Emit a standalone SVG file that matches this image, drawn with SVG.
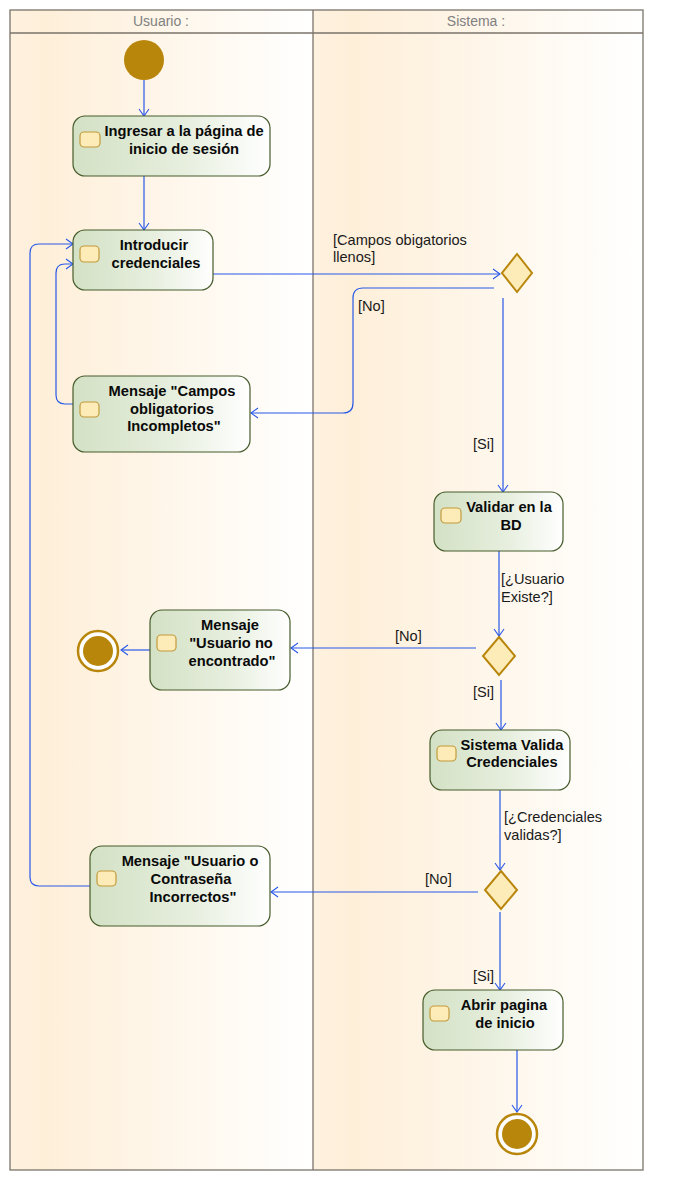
<svg xmlns="http://www.w3.org/2000/svg" width="676" height="1181" viewBox="0 0 676 1181">
  <defs>
    <linearGradient id="laneFill" x1="0" y1="0" x2="1" y2="0">
      <stop offset="0" stop-color="#FEF1DF"/>
      <stop offset="0.12" stop-color="#FEEFD9"/>
      <stop offset="1" stop-color="#FFFFFF"/>
    </linearGradient>
    <linearGradient id="actionFill" x1="0" y1="0" x2="1" y2="0">
      <stop offset="0" stop-color="#D3E1C5"/>
      <stop offset="0.55" stop-color="#E6EEDD"/>
      <stop offset="1" stop-color="#FFFFFF"/>
    </linearGradient>
    <marker id="arrow" markerUnits="userSpaceOnUse" markerWidth="9" markerHeight="12" refX="8" refY="6" orient="auto">
      <path d="M1,1 L8,6 L1,11" fill="none" stroke="#2858E8" stroke-width="1.1"/>
    </marker>
    <style>
      .frame { fill: none; stroke: #7A736A; stroke-width: 1.3; }
      .lane-title { font-family: "Liberation Sans", Arial, sans-serif; font-size: 14px; fill: #808080; text-anchor: middle; }
      .action { fill: url(#actionFill); stroke: #465C2C; stroke-width: 1.2; }
      .icon { fill: #FDEBB8; stroke: #C39A3A; stroke-width: 1.2; }
      .act-text { font-family: "Liberation Sans", Arial, sans-serif; font-size: 14.7px; font-weight: bold; fill: #0A0A0A; text-anchor: middle; }
      .decision { fill: #FDEBB8; stroke: #B8860B; stroke-width: 2; }
      .start { fill: #B8860B; }
      .final-ring { fill: #FFFFFF; stroke: #B8860B; stroke-width: 2.5; }
      .edge { fill: none; stroke: #2858E8; stroke-width: 1.2; marker-end: url(#arrow); }
      .guard { font-family: "Liberation Sans", Arial, sans-serif; font-size: 14.6px; fill: #1A1A1A; }
    </style>
  </defs>

  <!-- swimlanes -->
  <g id="lanes">
    <rect x="10" y="10" width="303" height="1160" fill="url(#laneFill)"/>
    <rect x="313" y="10" width="330" height="1160" fill="url(#laneFill)"/>
    <rect x="10" y="10" width="633" height="1160" class="frame"/>
    <line x1="10" y1="33" x2="643" y2="33" class="frame"/>
    <line x1="313" y1="10" x2="313" y2="1170" class="frame"/>
    <text x="161" y="26" class="lane-title">Usuario :</text>
    <text x="476" y="26" class="lane-title">Sistema :</text>
  </g>

  <!-- connectors -->
  <g id="connectors">
    <path class="edge" d="M144,80 V116"/>
    <path class="edge" d="M144,176 V230"/>
    <path class="edge" d="M213,274 H500"/>
    <path class="edge" d="M494,288 H363 Q353,288 353,298 V403 Q353,413 343,413 H251"/>
    <path class="edge" d="M503,298 V492"/>
    <path class="edge" d="M73,404 H65 Q56,404 56,395 V273 Q56,264 65,264 H73"/>
    <path class="edge" d="M90,886 H39 Q30,886 30,877 V253 Q30,244 39,244 H73"/>
    <path class="edge" d="M499,551 V636"/>
    <path class="edge" d="M476,648 H291"/>
    <path class="edge" d="M150,650 H121"/>
    <path class="edge" d="M501,680 V730"/>
    <path class="edge" d="M500,790 V870"/>
    <path class="edge" d="M478,892 H271"/>
    <path class="edge" d="M500,912 V990"/>
    <path class="edge" d="M517,1050 V1112"/>

    <text class="guard" x="333" y="245">[Campos obigatorios</text>
    <text class="guard" x="333" y="262">llenos]</text>
    <text class="guard" x="358" y="311">[No]</text>
    <text class="guard" x="473" y="449">[Si]</text>
    <text class="guard" x="501" y="584">[¿Usuario</text>
    <text class="guard" x="501" y="602">Existe?]</text>
    <text class="guard" x="395" y="641">[No]</text>
    <text class="guard" x="473" y="697">[Si]</text>
    <text class="guard" x="504" y="822">[¿Credenciales</text>
    <text class="guard" x="504" y="840">validas?]</text>
    <text class="guard" x="425" y="884">[No]</text>
    <text class="guard" x="473" y="981">[Si]</text>
  </g>

  <!-- initial node -->
  <g id="start">
    <circle class="start" cx="144" cy="60" r="20"/>
  </g>

  <g id="ingresar">
    <rect class="action" x="73" y="116" width="197" height="60" rx="12"/>
    <rect class="icon" x="80" y="132" width="20" height="15" rx="4"/>
    <text class="act-text" x="184" y="136">Ingresar a la página de</text>
    <text class="act-text" x="184" y="154">inicio de sesión</text>
  </g>

  <g id="introducir">
    <rect class="action" x="73" y="230" width="140" height="60" rx="12"/>
    <rect class="icon" x="80" y="246" width="19" height="16" rx="4"/>
    <text class="act-text" x="154" y="250">Introducir</text>
    <text class="act-text" x="156" y="268">credenciales</text>
  </g>

  <g id="msgCampos">
    <rect class="action" x="73" y="376" width="177" height="76" rx="12"/>
    <rect class="icon" x="80" y="402" width="19" height="15" rx="4"/>
    <text class="act-text" x="172" y="396">Mensaje "Campos</text>
    <text class="act-text" x="172" y="414">obligatorios</text>
    <text class="act-text" x="174" y="431">Incompletos"</text>
  </g>

  <g id="decisionCampos">
    <polygon class="decision" points="517,254 532,273 517,292 502,273"/>
  </g>

  <g id="validarBD">
    <rect class="action" x="434" y="492" width="129" height="59" rx="12"/>
    <rect class="icon" x="441" y="508" width="20" height="15" rx="4"/>
    <text class="act-text" x="509" y="512">Validar en la</text>
    <text class="act-text" x="511" y="530">BD</text>
  </g>

  <g id="decisionUsuario">
    <polygon class="decision" points="499,637 515,656 499,675 483,656"/>
  </g>

  <g id="msgNoEncontrado">
    <rect class="action" x="150" y="610" width="140" height="80" rx="12"/>
    <rect class="icon" x="157" y="635" width="19" height="16" rx="4"/>
    <text class="act-text" x="230" y="630">Mensaje</text>
    <text class="act-text" x="231" y="648">"Usuario no</text>
    <text class="act-text" x="232" y="666">encontrado"</text>
  </g>

  <g id="finalNoEncontrado">
    <circle class="final-ring" cx="98" cy="651" r="20"/>
    <circle class="start" cx="98" cy="651" r="15"/>
  </g>

  <g id="validaCredenciales">
    <rect class="action" x="430" y="730" width="140" height="60" rx="12"/>
    <rect class="icon" x="437" y="746" width="19" height="15" rx="4"/>
    <text class="act-text" x="512" y="750">Sistema Valida</text>
    <text class="act-text" x="512" y="767">Credenciales</text>
  </g>

  <g id="decisionCredenciales">
    <polygon class="decision" points="501,871 517,890 501,909 485,890"/>
  </g>

  <g id="msgIncorrectos">
    <rect class="action" x="90" y="846" width="180" height="80" rx="12"/>
    <rect class="icon" x="97" y="871" width="19" height="15" rx="4"/>
    <text class="act-text" x="190" y="866">Mensaje "Usuario o</text>
    <text class="act-text" x="191" y="884">Contraseña</text>
    <text class="act-text" x="193" y="902">Incorrectos"</text>
  </g>

  <g id="abrirInicio">
    <rect class="action" x="423" y="990" width="140" height="60" rx="12"/>
    <rect class="icon" x="430" y="1006" width="19" height="15" rx="4"/>
    <text class="act-text" x="504" y="1010">Abrir pagina</text>
    <text class="act-text" x="505" y="1028">de inicio</text>
  </g>

  <g id="finalInicio">
    <circle class="final-ring" cx="517" cy="1134" r="20"/>
    <circle class="start" cx="517" cy="1134" r="15"/>
  </g>
</svg>
